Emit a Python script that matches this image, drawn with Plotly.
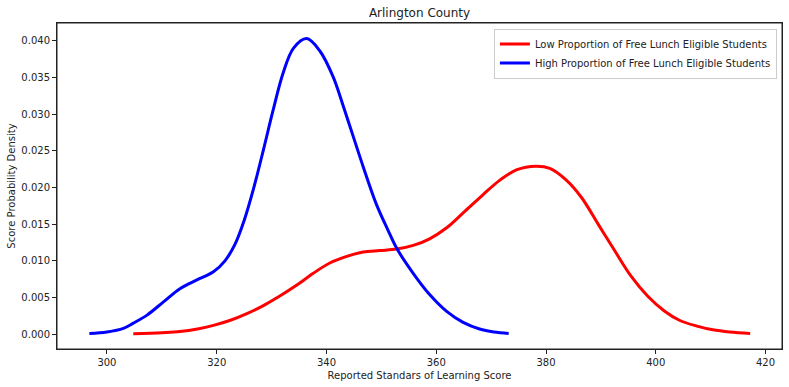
import plotly.graph_objects as go

# Data
high_x = [296.8, 300.0, 303.0, 304.8, 307.3, 310.3, 313.3, 316.4, 319.4, 321.5, 323.3, 325.0,
          326.7, 328.5, 330.3, 332.1, 334.0, 336.4, 338.8, 341.2, 343.1, 344.9, 346.7, 349.1,
          351.2, 352.8, 355.8, 358.8, 361.9, 364.9, 367.9, 370.5, 373.2]
high_y = [0.0001, 0.0003, 0.0008, 0.0015, 0.0026, 0.0044, 0.0062, 0.0074, 0.0085, 0.0100, 0.0122, 0.0155,
          0.0198, 0.0251, 0.0306, 0.0356, 0.0390, 0.0403, 0.0386, 0.0351, 0.0310, 0.0269, 0.0228, 0.0177,
          0.0142, 0.0117, 0.0083, 0.0054, 0.0031, 0.0016, 0.0007, 0.0003, 0.0001]

low_x = [304.8, 310.0, 313.3, 316.5, 319.4, 322.5, 325.5, 328.5, 331.5, 334.6, 337.6, 340.6,
         343.7, 346.7, 349.7, 352.8, 355.8, 358.8, 361.9, 365.0, 368.5, 371.6, 374.6, 378.2,
         380.7, 383.7, 386.5, 389.5, 392.5, 395.5, 398.5, 401.5, 404.3, 407.5, 410.4, 413.5, 417.2]
low_y = [0.00005, 0.0002, 0.00035, 0.0007, 0.0012, 0.0019, 0.0028, 0.0039, 0.0052, 0.0067, 0.0083, 0.0097,
         0.0106, 0.0112, 0.0114, 0.0116, 0.0121, 0.0130, 0.0145, 0.0166, 0.0190, 0.0210, 0.0224, 0.0229,
         0.0226, 0.0210, 0.0186, 0.0150, 0.0114, 0.0079, 0.0052, 0.0032, 0.0019, 0.0011, 0.0006, 0.0003, 0.0001]

x_ticks = [300, 320, 340, 360, 380, 400, 420]
y_ticks = [0.000, 0.005, 0.010, 0.015, 0.020, 0.025, 0.030, 0.035, 0.040]

FONT = "DejaVu Sans"
TXT = "#222222"
W, H = 789, 387

fig = go.Figure()
fig.add_trace(go.Scatter(x=low_x, y=low_y, mode="lines", line=dict(color="#ff0000", width=3, shape="spline"),
                         name="Low Proportion of Free Lunch Eligible Students"))
fig.add_trace(go.Scatter(x=high_x, y=high_y, mode="lines", line=dict(color="#0000ff", width=3, shape="spline"),
                         name="High Proportion of Free Lunch Eligible Students"))

axis_common = dict(showline=True, linecolor="#222", linewidth=1, mirror=True, ticks="outside",
                   ticklen=4, tickcolor="#222", showgrid=False, zeroline=False,
                   tickfont=dict(family=FONT, size=10, color=TXT))

fig.update_layout(
    width=W, height=H,
    margin=dict(l=57, r=7, t=23, b=38),
    paper_bgcolor="white", plot_bgcolor="white",
    font=dict(family=FONT, size=10, color=TXT),
    title=dict(text="Arlington County", x=(57 + 782) / 2 / W, xanchor="center",
               y=1 - 13 / H, yanchor="middle", yref="container",
               font=dict(family=FONT, size=12, color=TXT)),
    xaxis=dict(range=[290.9, 423.0], tickvals=x_ticks, ticktext=[str(v) for v in x_ticks],
               title=dict(text="Reported Standars of Learning Score", standoff=4,
                          font=dict(family=FONT, size=10, color=TXT)),
               **axis_common),
    yaxis=dict(range=[-0.00202, 0.04242], tickvals=y_ticks, ticktext=[f"{v:.3f}" for v in y_ticks],
               title=dict(text="Score Probability Density", standoff=3,
                          font=dict(family=FONT, size=10, color=TXT)),
               **axis_common),
    legend=dict(x=0.993, y=0.983, xanchor="right", yanchor="top", bgcolor="rgba(255,255,255,0.8)",
                bordercolor="#cccccc", borderwidth=1, font=dict(family=FONT, size=10, color=TXT),
                itemwidth=30, tracegroupgap=0),
    showlegend=True,
    shapes=[dict(type="rect", xref="paper", yref="paper", x0=0, x1=1, y0=0, y1=1,
                 line=dict(color="#222", width=1), fillcolor="rgba(0,0,0,0)", layer="above")],
)

# remove the default 8px page margin so the figure fills the window exactly
fig.write_html("out.html", config={"displayModeBar": False},
               post_script="document.body.style.margin='0';")
